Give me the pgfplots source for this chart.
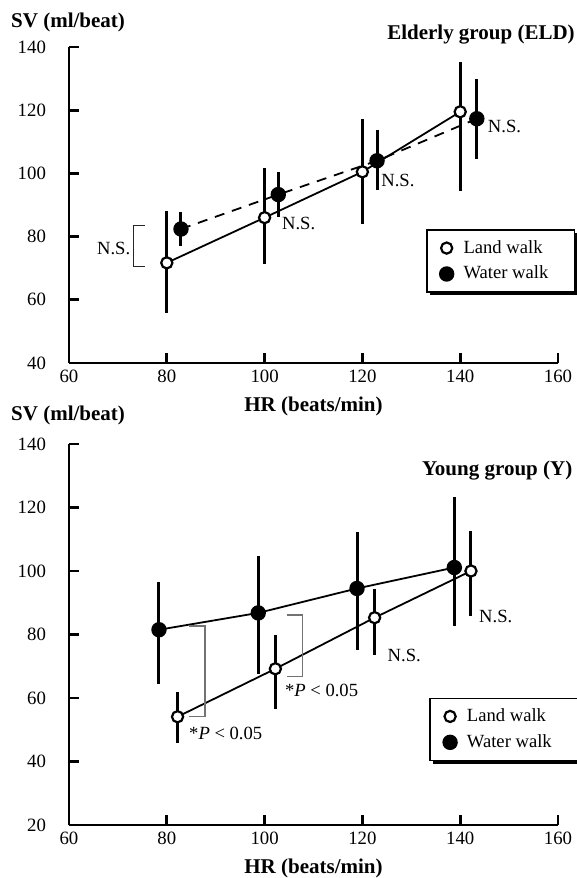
\documentclass[border=0pt]{standalone}
\usepackage{fontspec}
\setmainfont{Liberation Serif}
\usepackage{pgfplots}
\pgfplotsset{compat=1.18}
\usepackage{pgfplotstable}
\usetikzlibrary{shadows}

% HR, SV and the bar ends (up / down)
\pgfplotstableread{
x y ep em
80 71.7 16.3 16.0
100 86.0 15.6 14.6
120 100.5 16.8 16.5
140 119.5 15.8 25.0
}\eldland
\pgfplotstableread{
x y ep em
82.9 82.4 5.4 5.4
102.8 93.3 7.2 7.0
123.0 104.0 9.7 9.4
143.4 117.3 12.6 12.8
}\eldwater
\pgfplotstableread{
x y ep em
82.2 54.1 7.9 8.2
102.2 69.2 10.6 12.8
122.5 85.3 8.9 11.8
142.2 100.0 12.6 14.2
}\yland
\pgfplotstableread{
x y ep em
78.4 81.5 15.1 17.1
98.7 86.8 17.9 19.2
118.9 94.5 17.9 19.4
138.8 101.1 22.1 18.3
}\ywater

\newcommand\annfont{\fontsize{9.3}{11}\selectfont}
\newcommand\headfont{\bfseries\fontsize{10.5}{12}\selectfont}

\pgfplotsset{
  svpanel/.style={
    scale only axis, width=244.5pt,
    xmin=60, xmax=160, xtick={60,80,...,160},
    axis lines*=left,
    axis line style={line width=1.4pt},
    tick style={line width=1.4pt, black},
    tick align=inside, major tick length=5pt,
    tick label style={font=\fontsize{9.4}{11}\selectfont},
    /pgf/number format/assume math mode=true,
    yticklabel style={xshift=-8pt},
    xlabel={HR (beats/min)},
    xlabel style={font=\headfont},
    clip=false,
    legend image code/.code={\path (0pt,0pt) (12pt,0pt); \draw[##1] plot coordinates {(6pt,0pt)};},
    legend style={draw=black, line width=0.8pt, fill=white, anchor=north west,
      font=\annfont, inner xsep=3.5pt, inner ysep=3pt, row sep=1pt,
      drop shadow={shadow xshift=1.6pt, shadow yshift=-1.6pt, fill=black, opacity=1}},
    legend cell align=left,
  },
  ebars/.style={only marks, mark=none, forget plot,
    error bars/y dir=both, error bars/y explicit, error bars/error mark=none,
    error bars/error bar style={line width=1.5pt, black, solid}},
  land/.style={black, line width=0.9pt, mark=*, mark size=2.8pt,
    mark options={solid, fill=white, line width=1.1pt}},
  water/.style={black, line width=0.9pt, mark=*, mark size=3.4pt,
    mark options={solid, fill=black}},
}

\begin{document}
\begin{tikzpicture}

% elderly group
\begin{axis}[svpanel, at={(0pt,0pt)}, anchor=south west, height=158pt,
    ymin=40, ymax=140, ytick={40,60,...,140},
    legend style={at={(axis cs:133,82.3)}}]
  \addlegendimage{land}
  \addlegendentry{\makebox[50pt][l]{Land walk}}
  \addlegendimage{water}
  \addlegendentry{\makebox[50pt][l]{Water walk}}
  \addplot[ebars] table[x=x, y=y, y error plus=ep, y error minus=em] {\eldland};
  \addplot[ebars] table[x=x, y=y, y error plus=ep, y error minus=em] {\eldwater};
  \addplot[land, forget plot] table[x=x, y=y] {\eldland};
  \addplot[water, forget plot, dash pattern=on 5pt off 4pt] table[x=x, y=y] {\eldwater};

  \draw[line width=0.6pt, black!85] (axis cs:75.5,83.6) -- (axis cs:73.2,83.6)
    -- (axis cs:73.2,70.5) -- (axis cs:75.5,70.5);
  \node[anchor=east, inner sep=0, font=\annfont] at (axis cs:72.6,76.2) {N.S.};
  \node[anchor=west, inner sep=0, font=\annfont] at (axis cs:103.5,84) {N.S.};
  \node[anchor=west, inner sep=0, font=\annfont] at (axis cs:123.8,97.9) {N.S.};
  \node[anchor=west, inner sep=0, font=\annfont] at (axis cs:145.6,114.7) {N.S.};

  \node[anchor=west, inner sep=0, font=\headfont] at (axis cs:48.1,147.9) {SV (ml/beat)};
  \node[anchor=east, inner sep=0, font=\headfont] at (axis cs:163.5,143.8) {Elderly group (ELD)};
\end{axis}

% young group
\begin{axis}[svpanel, at={(0pt,-231pt)}, anchor=south west, height=190.5pt,
    ymin=20, ymax=140, ytick={20,40,...,140},
    legend style={at={(axis cs:133.7,60.1)}}]
  \addlegendimage{land}
  \addlegendentry{\makebox[50pt][l]{Land walk}}
  \addlegendimage{water}
  \addlegendentry{\makebox[50pt][l]{Water walk}}
  \addplot[ebars] table[x=x, y=y, y error plus=ep, y error minus=em] {\ywater};
  \addplot[ebars] table[x=x, y=y, y error plus=ep, y error minus=em] {\yland};
  \addplot[water, forget plot] table[x=x, y=y] {\ywater};
  \addplot[land, forget plot] table[x=x, y=y] {\yland};

  \draw[line width=0.7pt, black!55] (axis cs:84.5,82.7) -- (axis cs:87.8,82.7)
    -- (axis cs:87.8,54.1) -- (axis cs:84.5,54.1);
  \draw[line width=0.7pt, black!55] (axis cs:104.5,86.2) -- (axis cs:107.8,86.2)
    -- (axis cs:107.8,66.7) -- (axis cs:104.5,66.7);
  \node[anchor=west, inner sep=0, font=\annfont] at (axis cs:84.5,48.9) {*\textit{P} < 0.05};
  \node[anchor=west, inner sep=0, font=\annfont] at (axis cs:104.1,62.3) {*\textit{P} < 0.05};
  \node[anchor=west, inner sep=0, font=\annfont] at (axis cs:125.1,73.3) {N.S.};
  \node[anchor=west, inner sep=0, font=\annfont] at (axis cs:143.8,85.6) {N.S.};

  \node[anchor=west, inner sep=0, font=\headfont] at (axis cs:48.1,149.1) {SV (ml/beat)};
  \node[anchor=east, inner sep=0, font=\headfont] at (axis cs:163,131.8) {Young group (Y)};
\end{axis}

\pgfresetboundingbox
\useasboundingbox (-34.5pt,-257.5pt) rectangle (254pt,181.5pt);
\end{tikzpicture}
\end{document}
